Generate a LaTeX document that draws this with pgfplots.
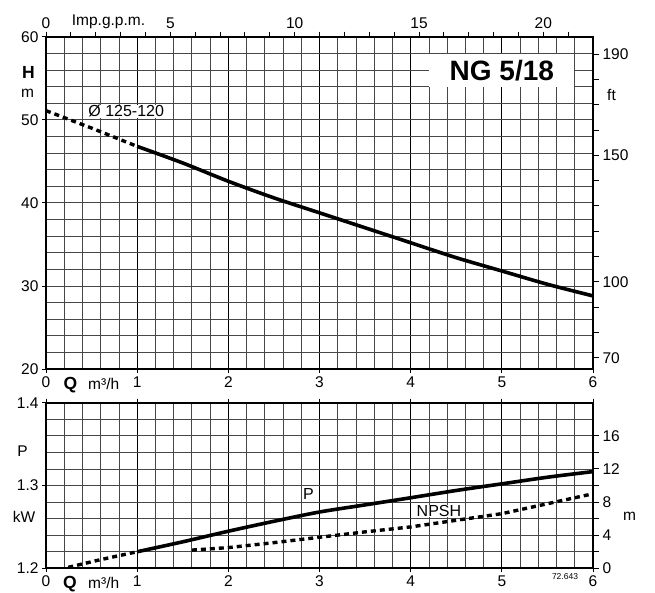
\documentclass[border=0pt]{standalone}
\usepackage{fontspec}
\setmainfont{Liberation Sans}
\usepackage{pgfplots}
\pgfplotsset{compat=1.18}

% 1pt in the picture = 1px in the reference
\pgfplotsset{
  base/.style={scale only axis, width=547pt, xmin=0, xmax=6,
    tick label style={font=\fontsize{15.5}{18}\selectfont},
    /pgf/number format/assume math mode=true,
    tick style={black, line width=0.8pt}, tick align=outside},
  pgrid/.style={grid=both, minor x tick num=4, minor y tick num=4,
    minor grid style={black!72, line width=0.75pt},
    major grid style={black, line width=1pt},
    major y grid style={black!72, line width=0.75pt},
    axis line style={line width=2pt},
    major tick length=4pt, minor tick length=0pt,
    xtick={0,...,6}},
  over/.style={base, axis line style={draw=none}, major tick length=6pt,
    minor tick length=0pt, tick style={black, line width=1pt}},
  curve/.style={black, line width=3.6pt, line cap=butt},
  dcurve/.style={black, line width=3.4pt, dash pattern=on 5pt off 4pt},
}

\begin{document}
\begin{tikzpicture}
\useasboundingbox (0,0) rectangle (655pt,-592pt);

% ---------------- head ----------------
\begin{axis}[base, pgrid, at={(46pt,-369pt)}, anchor=south west,
  height=332.3pt, ymin=20, ymax=60, ytick={20,30,...,60},
  xtick pos=left, ytick pos=left]
  \addplot[dcurve] coordinates {(0,51.1) (0.5,49.0) (1,46.8)};
  \addplot[curve, smooth] coordinates {
    (1,46.8) (1.5,44.8) (2,42.6) (2.5,40.6) (3,38.8) (3.5,37.0)
    (4,35.2) (4.5,33.4) (5,31.8) (5.5,30.2) (6,28.8)};
  \node[fill=white, inner sep=1pt, font=\fontsize{16}{19}\selectfont]
    at (axis cs:0.88,51.0) {Ø 125-120};
  \node[fill=white, inner sep=0pt, minimum width=145pt, minimum height=33pt,
    font=\bfseries\fontsize{28}{32}\selectfont] at (axis cs:5.0,55.95) {NG 5/18};
\end{axis}

% Imp.g.p.m. scale on top
\begin{axis}[over, at={(46pt,-369pt)}, anchor=south west, height=332.3pt,
  xmin=0, xmax=21.9969, ymin=0, ymax=1, axis x line*=top, axis y line=none,
  xtick={0,...,21}, xticklabels={0,,,,,5,,,,,10,,,,,15,,,,,20,},
  major tick length=5pt]
\end{axis}

% ft scale on the right
\begin{axis}[over, at={(46pt,-369pt)}, anchor=south west, height=332.3pt,
  ymin=65.6168, ymax=196.8504, axis y line*=right, axis x line=none,
  ytick={70,80,...,190}, yticklabels={70,,,100,,,,,150,,,,190}]
\end{axis}

% ---------------- power ----------------
\begin{axis}[base, pgrid, at={(46pt,-568.3pt)}, anchor=south west,
  height=165.6pt, ymin=1.2, ymax=1.4, ytick={1.2,1.3,1.4},
  yticklabel style={/pgf/number format/.cd, fixed, fixed zerofill, precision=1},
  xtick pos=both, ytick pos=left]
  \addplot[dcurve] coordinates {(0.245,1.2012) (0.6,1.2105) (1,1.220)};
  \addplot[curve, smooth] coordinates {
    (1,1.220) (1.5,1.232) (2,1.2448) (2.5,1.2568) (3,1.268) (3.5,1.2766)
    (4,1.2852) (4.5,1.294) (5,1.302) (5.5,1.310) (6,1.3168)};
  \node[fill=white, inner sep=0.5pt, font=\fontsize{16}{19}\selectfont]
    at (axis cs:2.88,1.2898) {P};
\end{axis}

% NPSH in m on the right
\begin{axis}[over, at={(46pt,-568.3pt)}, anchor=south west, height=165.6pt,
  ymin=0, ymax=20, axis y line*=right, axis x line=none,
  ytick={0,2,...,16}, yticklabels={0,,4,,8,,12,,16}]
  \addplot[dcurve] coordinates {
    (1.6,2.2) (2,2.5) (2.5,3.1) (3,3.75) (3.5,4.4) (4,5.0)
    (4.5,5.8) (5,6.6) (5.5,7.8) (6,9.0)};
  \node[fill=white, inner sep=0.5pt, font=\fontsize{16}{19}\selectfont]
    at (axis cs:4.31,6.9) {NPSH};
\end{axis}

% ---------------- labels ----------------
\begin{scope}[every node/.style={font=\fontsize{15.5}{18}\selectfont, inner sep=0pt}]
  \node[anchor=base] at (108.5pt,-25pt) {Imp.g.p.m.};
  \node[anchor=base, font=\bfseries\fontsize{17.5}{20}\selectfont] at (28.5pt,-78pt) {H};
  \node[anchor=base] at (27.5pt,-97.7pt) {m};
  \node[anchor=base west] at (607pt,-100.7pt) {ft};
  \node[anchor=base west, font=\bfseries\fontsize{17.5}{20}\selectfont] at (63.5pt,-389pt) {Q};
  \node[anchor=base west] at (88pt,-389pt) {m³/h};
  \node[anchor=base] at (22.5pt,-456.7pt) {P};
  \node[anchor=base] at (24pt,-522.7pt) {kW};
  \node[anchor=base west] at (623pt,-520pt) {m};
  \node[anchor=base west, font=\bfseries\fontsize{17.5}{20}\selectfont] at (63pt,-588.3pt) {Q};
  \node[anchor=base west] at (88pt,-588.3pt) {m³/h};
  \node[font=\fontsize{8.5}{10}\selectfont] at (565pt,-577pt) {72.643};
\end{scope}
\end{tikzpicture}
\end{document}
